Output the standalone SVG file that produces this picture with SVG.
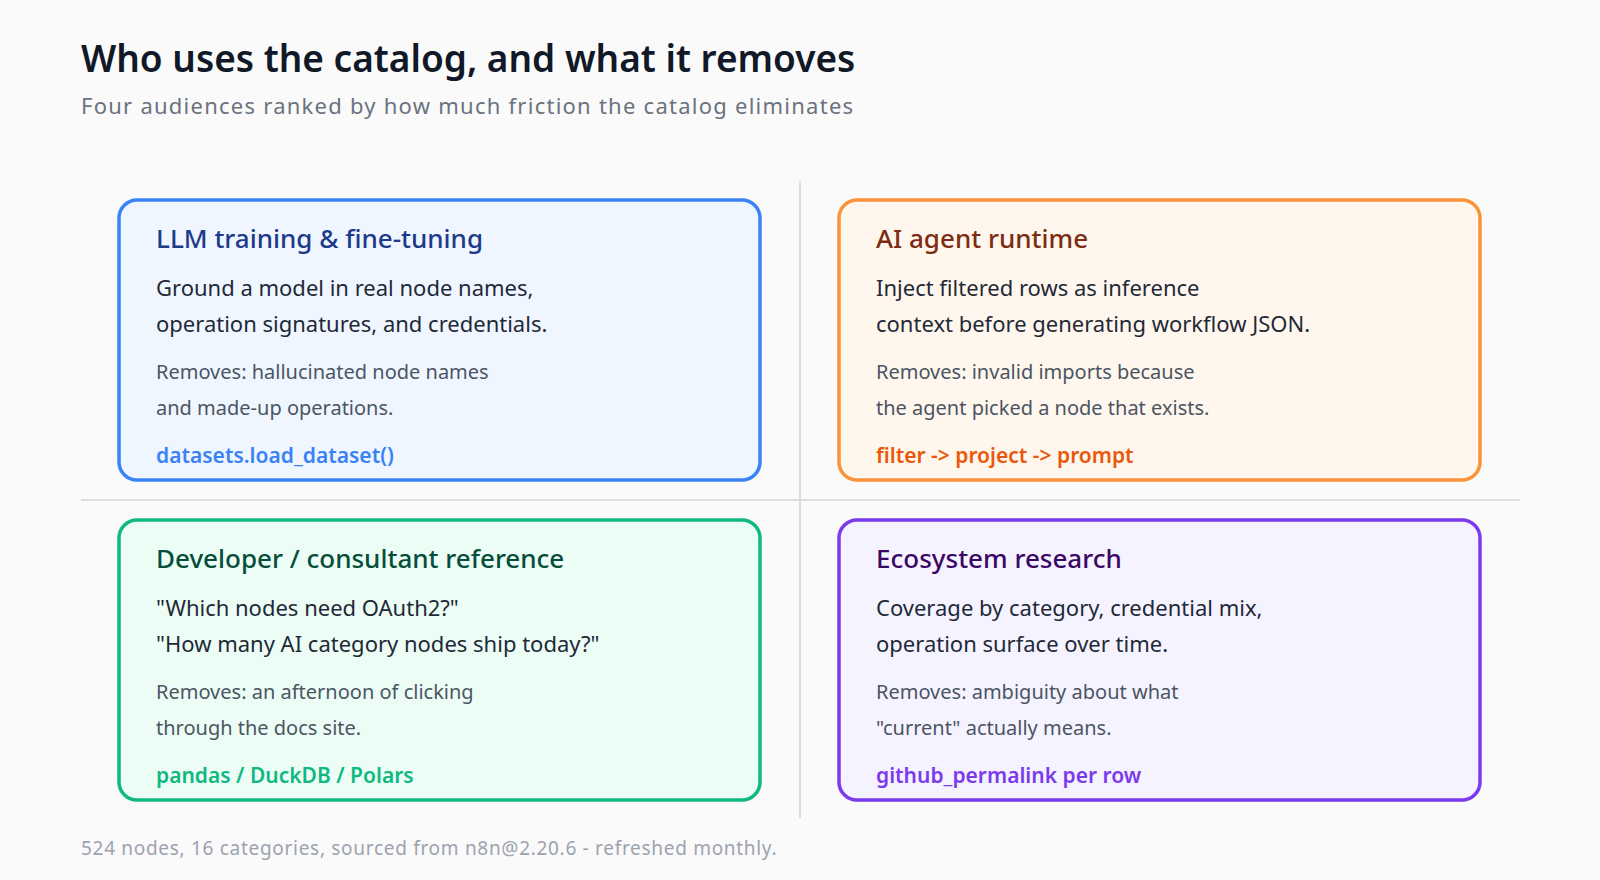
<svg xmlns="http://www.w3.org/2000/svg" width="1600" height="880" viewBox="0 0 1600 880">
<style>
text{font-family:"Noto Sans","Open Sans","Liberation Sans",sans-serif}
.t{font-size:37px;font-weight:600;fill:#111827}
.s{font-size:22px;fill:#6b7280;letter-spacing:1.25px}
.h{font-size:26px;font-weight:500}
.b{font-size:22px;fill:#1f2937}
.r{font-size:20px;fill:#4b5563}
.c{font-size:21px;font-weight:600}
.f{font-size:19px;fill:#9ca3af;letter-spacing:0.7px}
.card{stroke-width:3.5}
.div{stroke:#d1d5db;stroke-width:1.5}
</style>
<rect width="1600" height="880" fill="#fafafa"/>
<text class="t" x="81" y="72">Who uses the catalog, and what it removes</text>
<text class="s" x="81" y="114">Four audiences ranked by how much friction the catalog eliminates</text>
<g id="connectors">
<line class="div" x1="800" y1="181" x2="800" y2="818"/>
<line class="div" x1="81" y1="500" x2="1520" y2="500"/>
</g>
<g id="llm">
<rect class="card" x="119" y="200" width="641" height="280" rx="18" fill="#eff6ff" stroke="#3b82f6"/>
<text class="h" x="156" y="248" fill="#1e3a8a">LLM training &amp; fine-tuning</text>
<text class="b" x="156" y="296">Ground a model in real node names,</text>
<text class="b" x="156" y="332">operation signatures, and credentials.</text>
<text class="r" x="156" y="379">Removes: hallucinated node names</text>
<text class="r" x="156" y="415">and made-up operations.</text>
<text class="c" x="156" y="463" fill="#3b82f6">datasets.load_dataset()</text>
</g>
<g id="agent">
<rect class="card" x="839" y="200" width="641" height="280" rx="18" fill="#fff7ed" stroke="#fb923c"/>
<text class="h" x="876" y="248" fill="#7c2d12">AI agent runtime</text>
<text class="b" x="876" y="296">Inject filtered rows as inference</text>
<text class="b" x="876" y="332">context before generating workflow JSON.</text>
<text class="r" x="876" y="379">Removes: invalid imports because</text>
<text class="r" x="876" y="415">the agent picked a node that exists.</text>
<text class="c" x="876" y="463" fill="#ea580c">filter -&gt; project -&gt; prompt</text>
</g>
<g id="dev">
<rect class="card" x="119" y="520" width="641" height="280" rx="18" fill="#ecfdf5" stroke="#10b981"/>
<text class="h" x="156" y="568" fill="#064e3b">Developer / consultant reference</text>
<text class="b" x="156" y="616">"Which nodes need OAuth2?"</text>
<text class="b" x="156" y="652">"How many AI category nodes ship today?"</text>
<text class="r" x="156" y="699">Removes: an afternoon of clicking</text>
<text class="r" x="156" y="735">through the docs site.</text>
<text class="c" x="156" y="783" fill="#10b981">pandas / DuckDB / Polars</text>
</g>
<g id="eco">
<rect class="card" x="839" y="520" width="641" height="280" rx="18" fill="#f5f3ff" stroke="#7c3aed"/>
<text class="h" x="876" y="568" fill="#3b0764">Ecosystem research</text>
<text class="b" x="876" y="616">Coverage by category, credential mix,</text>
<text class="b" x="876" y="652">operation surface over time.</text>
<text class="r" x="876" y="699">Removes: ambiguity about what</text>
<text class="r" x="876" y="735">"current" actually means.</text>
<text class="c" x="876" y="783" fill="#7c3aed">github_permalink per row</text>
</g>
<text class="f" x="81" y="855">524 nodes, 16 categories, sourced from n8n@2.20.6 - refreshed monthly.</text>
</svg>
